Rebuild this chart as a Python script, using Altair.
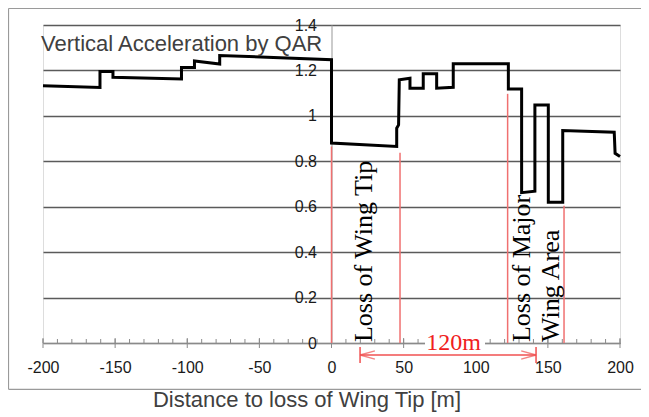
import altair as alt
import pandas as pd

# ---- data ----
dist = [-200, -160.5, -160.5, -151.5, -151.5, -104, -104, -95, -95, -77.5, -77.5, 0, 0,
        45.2, 45.2, 46.5, 47, 54.4, 54.4, 63.6, 63.6, 72.9, 72.9, 84.4, 84.4, 122.6, 122.6,
        131.8, 131.8, 141, 141, 150.3, 150.3, 160.3, 160.3, 196, 196.6, 200]
accel = [1.132, 1.125, 1.195, 1.195, 1.170, 1.162, 1.213, 1.213, 1.242, 1.228, 1.266, 1.247, 0.880,
         0.865, 0.946, 0.960, 1.159, 1.166, 1.122, 1.122, 1.185, 1.185, 1.122, 1.126, 1.229, 1.229, 1.118,
         1.118, 0.662, 0.668, 1.048, 1.048, 0.620, 0.620, 0.935, 0.928, 0.835, 0.821]

marker_x = [0, 47.5, 122.1, 161.2]
marker_top = [0.865, 0.838, 1.097, 0.604]

event_text = ["Loss of Wing Tip", "Loss of Major", "Wing Area"]
event_x = [27.9, 137.6, 158.0]

arrow_start = 19.8
arrow_end = 141.8
arrow_y = -0.053
arrow_label = "120m"

y_ticks = [0, 0.2, 0.4, 0.6, 0.8, 1, 1.2, 1.4]
x_labels = [-200, -150, -100, -50, 0, 50, 100, 150, 200]
x_minor = list(range(-200, 201, 10))

W, H = 577, 318

line_df = pd.DataFrame({"d": dist, "a": accel, "i": list(range(len(dist)))})
marker_df = pd.DataFrame({"x": marker_x, "top": marker_top, "bot": [0] * len(marker_x)})
event_df = pd.DataFrame({"t": event_text, "x": event_x, "y": [0.004] * 3})
arrow_df = pd.DataFrame({"x": [arrow_start], "x2": [arrow_end], "y": [arrow_y]})
minor_df = pd.DataFrame({"x": x_minor})
major_df = pd.DataFrame({"x": x_labels})
one = pd.DataFrame({"k": [0]})

xs = alt.Scale(domain=[-200, 200], nice=False, zero=False)
ys = alt.Scale(domain=[0, 1.4], nice=False, zero=False)

frame_left = alt.Chart(one).mark_rule(color="#9a9a9a", strokeWidth=1.2).encode(
    x=alt.value(-34.5), y=alt.value(-16.5), y2=alt.value(364.3))
frame_top = alt.Chart(one).mark_rule(color="#9a9a9a", strokeWidth=1.2).encode(
    x=alt.value(-34.5), x2=alt.value(700), y=alt.value(-16.5))
frame_bottom = alt.Chart(one).mark_rule(color="#9a9a9a", strokeWidth=1.2).encode(
    x=alt.value(-34.5), x2=alt.value(700), y=alt.value(364.3))

minor = alt.Chart(minor_df).mark_rule(color="#8a8a8a", strokeWidth=1).encode(
    x=alt.X("x:Q", scale=xs), y=alt.value(H - 4), y2=alt.value(H))
major = alt.Chart(major_df).mark_rule(color="#8a8a8a", strokeWidth=1).encode(
    x=alt.X("x:Q", scale=xs), y=alt.value(H - 5), y2=alt.value(H + 5))

line = alt.Chart(line_df).mark_line(color="black", strokeWidth=3, strokeJoin="miter").encode(
    x=alt.X("d:Q", scale=xs, axis=alt.Axis(values=x_labels, labelExpr="'' + datum.value",
                                          ticks=False, grid=False, domainColor="#8a8a8a",
                                          domainWidth=1.2, labelPadding=16, labelFontSize=16,
                                          labelFlush=False, labelOverlap=False,
                                          labelFont="Liberation Sans", labelColor="#1a1a1a",
                                          title=None, zindex=0)),
    y=alt.Y("a:Q", scale=ys, axis=alt.Axis(values=y_ticks, format="~g", grid=True,
                                          gridColor="#5a5a5a", gridWidth=1.5, domainColor="#a8a8a8",
                                          domainWidth=1.2, ticks=False, labelPadding=15,
                                          offset=-W / 2, labelFontSize=16, labelFlush=False,
                                          labelOverlap=False,
                                          labelFont="Liberation Sans", labelColor="#1a1a1a",
                                          labelBaseline="middle", title=None, zindex=0)),
    order="i:Q")

markers = alt.Chart(marker_df).mark_rule(color="#f07070", strokeWidth=1.5).encode(
    x=alt.X("x:Q", scale=xs), y=alt.Y("bot:Q", scale=ys), y2="top:Q")

events = alt.Chart(event_df).mark_text(angle=270, align="left", baseline="alphabetic",
                                       font="Liberation Serif", fontSize=26, color="black").encode(
    x=alt.X("x:Q", scale=xs), y=alt.Y("y:Q", scale=ys), text="t:N")

arrow_line = alt.Chart(arrow_df).mark_rule(color="#f05050", strokeWidth=1.5).encode(
    x=alt.X("x:Q", scale=xs), x2="x2:Q", y=alt.Y("y:Q", scale=ys))
caps = alt.Chart(pd.DataFrame({"x": [arrow_start, arrow_end]})).mark_rule(
    color="#f05050", strokeWidth=1.5).encode(
    x=alt.X("x:Q", scale=xs), y=alt.value(H + 4), y2=alt.value(H + 20))
heads = alt.Chart(pd.DataFrame({"x": [arrow_start, arrow_end],
                                "s": ["l", "r"]})).mark_point(
    color="#f05050", strokeWidth=1.3, filled=False, size=220).encode(
    x=alt.X("x:Q", scale=xs), y=alt.value(H + 12),
    shape=alt.Shape("s:N", scale=alt.Scale(domain=["l", "r"],
                                           range=["M0,0L2,-0.55M0,0L2,0.55",
                                                  "M0,0L-2,-0.55M0,0L-2,0.55"]), legend=None))

label_bg = alt.Chart(one).mark_rect(fill="white").encode(
    x=alt.value(382), x2=alt.value(442), y=alt.value(310), y2=alt.value(326))
label = alt.Chart(pd.DataFrame({"t": [arrow_label], "x": [(arrow_start + arrow_end) / 2 + 3.9],
                                "y": [-0.031]})).mark_text(
    font="Liberation Serif", fontSize=24, color="#f02020", align="center",
    baseline="alphabetic").encode(x=alt.X("x:Q", scale=xs), y=alt.Y("y:Q", scale=ys), text="t:N")

title = alt.Chart(one).mark_text(text="Vertical Acceleration by QAR", font="Liberation Sans",
                                 fontSize=22, color="#404040", align="left",
                                 baseline="alphabetic").encode(x=alt.value(-2), y=alt.value(26))
xtitle = alt.Chart(one).mark_text(text="Distance to loss of Wing Tip [m]", font="Liberation Sans",
                                  fontSize=22, color="#404040", align="center",
                                  baseline="alphabetic").encode(x=alt.value(264), y=alt.value(382))

chart = alt.layer(frame_left, frame_top, frame_bottom, minor, major, line, markers, arrow_line,
                  caps, heads, label_bg, label, events, title, xtitle).properties(
    width=W, height=H,
    autosize=alt.AutoSizeParams(type="none"),
    padding={"left": 35, "top": 17, "right": 21, "bottom": 70},
).configure_view(stroke=None).configure(background="white")

chart.save("out.html", embed_options={"renderer": "svg", "actions": False})
